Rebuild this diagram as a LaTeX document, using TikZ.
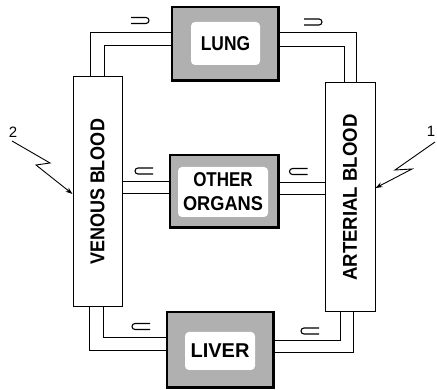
\documentclass[tikz,border=0pt]{standalone}
\usepackage{fontspec}
\setmainfont{Liberation Sans}
\usetikzlibrary{arrows.meta}
\begin{document}
\begin{tikzpicture}[x=1pt,y=1pt,
  organ/.style={draw=black, line width=1.2pt, fill=gray!62, inner sep=0pt},
  organin/.style={fill=white, rounded corners=4pt, inner sep=0pt, align=center,
    font=\fontsize{20}{25}\selectfont\bfseries},
  blood/.style={draw=black, line width=1pt, fill=white, inner sep=0pt},
  btext/.style={rotate=90, inner sep=0pt, font=\fontsize{20}{22}\selectfont\bfseries},
  pipe/.style={line width=1pt},
  shadowline/.style={line width=2.6pt},
  num/.style={inner sep=0pt, font=\fontsize{15}{15}\selectfont},
  bolt/.style={line width=0.9pt, -{Stealth[length=7pt,width=5pt]}},
  flow/.style={line width=1.1pt}]
\useasboundingbox (0,0) rectangle (437,390);

% blood reservoirs
\node[blood, minimum width=49pt, minimum height=230pt] (ven) at (97.5,198) {};
\node[btext] (ventext) at (ven.center) {\scalebox{0.9}[1]{VENOUS BLOOD}};
\node[blood, minimum width=50pt, minimum height=229pt] (art) at (350,192.5) {};
\node[btext] (arttext) at (art.center) {\scalebox{0.93}[1]{ARTERIAL BLOOD}};

% organs
\node[organ, minimum width=106pt, minimum height=73pt] (lung) at (225,346.5) {};
\draw[shadowline] (lung.north east) -- (lung.south east) -- (lung.south west);
\node[organin, minimum width=69pt, minimum height=43pt] (lungin) at (225.5,346.5) {\scalebox{0.87}[1]{LUNG}};

\node[organ, minimum width=108pt, minimum height=72pt] (org) at (224,199) {};
\draw[shadowline] (org.north east) -- (org.south east) -- (org.south west);
\node[organin, minimum width=90pt, minimum height=50pt] (orgin) at (223,198) {\scalebox{0.85}[1]{OTHER}\\[-1pt]\scalebox{0.91}[1]{ORGANS}};

\node[organ, minimum width=106pt, minimum height=75pt] (liver) at (220,40.5) {};
\draw[shadowline] (liver.north east) -- (liver.south east) -- (liver.south west);
\node[organin, minimum width=70pt, minimum height=38pt] (liverin) at (220,39) {LIVER};

% pipes: venous -> lung
\draw[pipe] ([xshift=18pt]ven.north west) |- ([yshift=10.5pt]lung.west);
\draw[pipe] ([xshift=32pt]ven.north west) |- ([yshift=-2.5pt]lung.west);
% lung -> arterial
\draw[pipe] ([yshift=10.5pt]lung.east) -| ([xshift=32pt]art.north west);
\draw[pipe] ([yshift=-3.5pt]lung.east) -| ([xshift=20pt]art.north west);
% other organs
\coordinate (ol1) at ([yshift=9pt]org.west);
\coordinate (ol2) at ([yshift=-3pt]org.west);
\draw[pipe] (ol1) -- (ol1 -| ven.east);
\draw[pipe] (ol2) -- (ol2 -| ven.east);
\coordinate (or1) at ([yshift=8pt]org.east);
\coordinate (or2) at ([yshift=-4pt]org.east);
\draw[pipe] (or1) -- (or1 -| art.west);
\draw[pipe] (or2) -- (or2 -| art.west);
% liver
\draw[pipe] ([xshift=31pt]ven.south west) |- ([yshift=11.5pt]liver.west);
\draw[pipe] ([xshift=17pt]ven.south west) |- ([yshift=-1.5pt]liver.west);
\draw[pipe] ([xshift=16pt]art.south west) |- ([yshift=8.5pt]liver.east);
\draw[pipe] ([xshift=29pt]art.south west) |- ([yshift=-3.5pt]liver.east);

% flow arrows (double-line arrows with rounded heads)
\coordinate (fa1) at (140,369.5);
\coordinate (fa2) at (313,368);
\coordinate (fa3) at (144,219);
\coordinate (fa4) at (298.5,218.5);
\coordinate (fa5) at (141,63.5);
\coordinate (fa6) at (310,59);
\foreach \c in {fa1,fa2}
  \draw[flow] (\c) ++(-9,3) -- ++(15,0) arc[start angle=90, end angle=-90, radius=3] -- ++(-15,0);
\foreach \c in {fa3,fa4,fa5,fa6}
  \draw[flow] (\c) ++(9,3) -- ++(-15,0) arc[start angle=90, end angle=270, radius=3] -- ++(15,0);

% numbered bolts
\node[num] (n2) at (13,257.5) {2};
\coordinate (s2) at (12,249);
\coordinate (b2a) at (50,227);
\coordinate (b2b) at (36,225);
\draw[bolt] (s2) -- (b2a) -- (b2b) -- ([yshift=-2pt]ven.west);

\node[num] (n1) at (431,259) {1};
\coordinate (s1) at (435,248);
\coordinate (b1a) at (395,220);
\coordinate (b1b) at (412,221);
\draw[bolt] (s1) -- (b1a) -- (b1b) -- ([yshift=9.5pt]art.east);
\end{tikzpicture}
\end{document}
